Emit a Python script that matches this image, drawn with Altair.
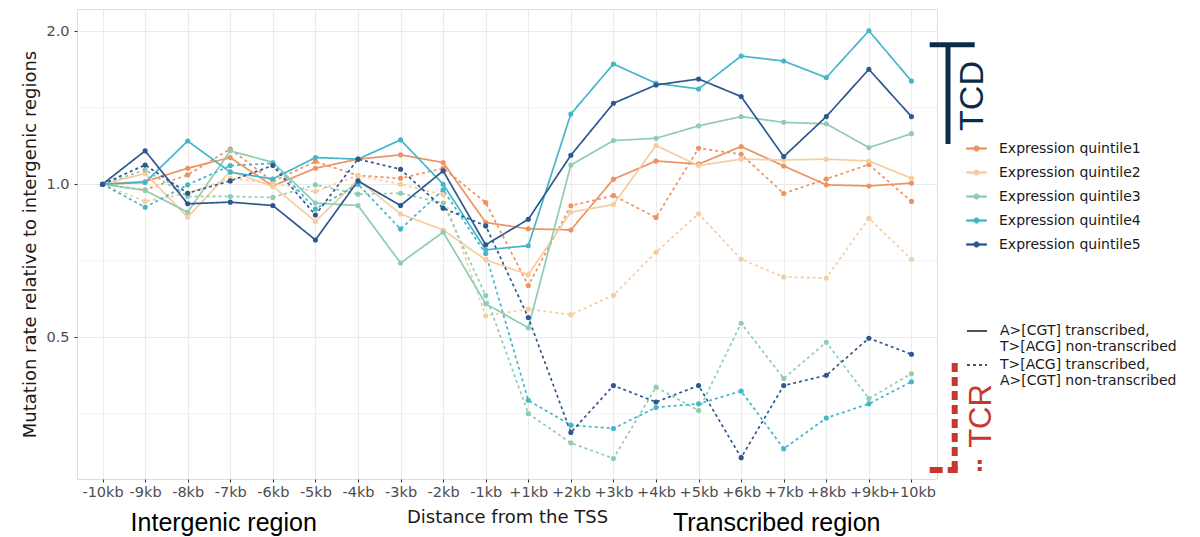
import altair as alt
import pandas as pd

positions = ["-10kb", "-9kb", "-8kb", "-7kb", "-6kb", "-5kb", "-4kb", "-3kb", "-2kb", "-1kb",
             "+1kb", "+2kb", "+3kb", "+4kb", "+5kb", "+6kb", "+7kb", "+8kb", "+9kb", "+10kb"]
quintiles = ["Expression quintile1", "Expression quintile2", "Expression quintile3",
             "Expression quintile4", "Expression quintile5"]
colors = ["#EE9260", "#F7CC9E", "#8FCDB1", "#43B6CA", "#2D5790"]
strands = ["A>[CGT] transcribed,|T>[ACG] non-transcribed",
           "T>[ACG] transcribed,|A>[CGT] non-transcribed"]

# solid: A>[CGT] transcribed ; dotted: T>[ACG] transcribed
q1_solid = [1.0, 1.012, 1.075, 1.128, 0.992, 1.075, 1.12, 1.142, 1.103, 0.841,
            0.817, 0.813, 1.023, 1.111, 1.095, 1.186, 1.086, 0.997, 0.992, 1.005]
q1_dotted = [1.0, 0.975, 1.043, 1.173, 1.012, 1.108, 1.04, 1.027, 1.075, 0.920,
             0.632, 0.907, 0.950, 0.860, 1.177, 1.145, 0.959, 1.024, 1.093, 0.925]
q2_solid = [1.0, 1.05, 0.861, 1.06, 0.99, 0.845, 1.02, 0.874, 0.813, 0.710,
            0.664, 0.881, 0.912, 1.191, 1.088, 1.12, 1.116, 1.12, 1.111, 1.027]
q2_dotted = [1.0, 0.925, 0.96, 1.027, 1.005, 0.967, 1.04, 1.0, 0.953, 0.551,
             0.568, 0.554, 0.605, 0.735, 0.875, 0.712, 0.657, 0.654, 0.857, 0.712]
q3_solid = [1.0, 0.972, 0.881, 1.163, 1.104, 0.918, 0.908, 0.70, 0.805, 0.582,
            0.522, 1.091, 1.218, 1.231, 1.302, 1.358, 1.323, 1.314, 1.18, 1.257]
q3_dotted = [1.0, 1.067, 0.946, 0.946, 0.942, 0.997, 0.956, 0.96, 0.918, 0.604,
             0.354, 0.310, 0.289, 0.399, 0.359, 0.533, 0.415, 0.489, 0.379, 0.424]
q4_solid = [1.0, 1.008, 1.216, 1.056, 1.024, 1.128, 1.12, 1.222, 1.0, 0.743,
            0.757, 1.374, 1.723, 1.579, 1.539, 1.786, 1.746, 1.62, 2.003, 1.595]
q4_dotted = [1.0, 0.901, 0.997, 1.088, 1.099, 0.894, 1.0, 0.816, 0.975, 0.730,
             0.376, 0.336, 0.331, 0.364, 0.370, 0.392, 0.302, 0.347, 0.370, 0.409]
q5_solid = [1.0, 1.163, 0.915, 0.922, 0.908, 0.777, 1.015, 0.908, 1.062, 0.760,
            0.853, 1.140, 1.442, 1.567, 1.61, 1.487, 1.133, 1.358, 1.682, 1.358]
q5_dotted = [1.0, 1.091, 0.960, 1.015, 1.088, 0.870, 1.12, 1.07, 0.897, 0.828,
             0.547, 0.325, 0.402, 0.373, 0.402, 0.290, 0.402, 0.421, 0.498, 0.463]

y_major = [0.5, 1.0, 2.0]
y_minor = [0.3536, 0.7071, 1.4142]

series = [
    (quintiles[0], strands[0], q1_solid), (quintiles[0], strands[1], q1_dotted),
    (quintiles[1], strands[0], q2_solid), (quintiles[1], strands[1], q2_dotted),
    (quintiles[2], strands[0], q3_solid), (quintiles[2], strands[1], q3_dotted),
    (quintiles[3], strands[0], q4_solid), (quintiles[3], strands[1], q4_dotted),
    (quintiles[4], strands[0], q5_solid), (quintiles[4], strands[1], q5_dotted),
]
rows = []
for q, s, vals in series:
    for p, v in zip(positions, vals):
        rows.append({"pos": p, "value": v, "quintile": q, "strand": s})
df = pd.DataFrame(rows)

W, H = 860, 470
FONT = "DejaVu Sans"

x_enc = alt.X("pos:N", sort=positions,
              scale=alt.Scale(type="point", padding=0.6),
              axis=alt.Axis(title="Distance from the TSS", labelAngle=0, labelOverlap=False,
                            labelFontSize=14.5, labelColor="#4D4D4D", labelPadding=3,
                            titleFontSize=18, titleFontWeight="normal", titleColor="#1A1A1A",
                            titlePadding=10, tickSize=3, tickColor="#333333",
                            domain=False, grid=True, gridColor="#EBEBEB", gridWidth=1.1,
                            labelFont=FONT, titleFont=FONT))
y_scale = alt.Scale(type="log", base=2, domain=[0.2633, 2.21], nice=False)
y_enc = alt.Y("value:Q", scale=y_scale,
              axis=alt.Axis(title="Mutation rate relative to intergenic regions",
                            values=y_major, format=".1f",
                            labelFontSize=14.5, labelColor="#4D4D4D", labelPadding=5,
                            titleFontSize=18, titleFontWeight="normal", titleColor="#1A1A1A",
                            titlePadding=6, tickSize=3, tickColor="#333333",
                            domain=False, grid=True, gridColor="#EBEBEB", gridWidth=1.1,
                            labelFont=FONT, titleFont=FONT))

color_scale = alt.Scale(domain=quintiles, range=colors)
color_legend = alt.Legend(title=None, orient="none", legendX=889, legendY=129,
                          symbolType="M-1,-0.07L1,-0.07L1,0.07L-1,0.07Z M-0.27,0A0.27,0.27 0 1,1 0.27,0A0.27,0.27 0 1,1 -0.27,0Z",
                          symbolSize=400, symbolStrokeWidth=0.8, symbolOpacity=1,
                          labelFont=FONT, labelFontSize=14, labelColor="#1A1A1A",
                          labelOffset=12, rowPadding=6, padding=0)
dash_legend = alt.Legend(title=None, orient="none", legendX=889, legendY=311,
                         symbolType="stroke", symbolSize=400, symbolStrokeWidth=1.6,
                         symbolStrokeColor="#1A1A1A",
                         labelExpr="split(datum.label, '|')",
                         labelFont=FONT, labelFontSize=14, labelColor="#1A1A1A",
                         labelOffset=12, rowPadding=-3, padding=0, labelLimit=400)

minor_grid = alt.Chart(pd.DataFrame({"v": y_minor})).mark_rule(
    color="#EBEBEB", strokeWidth=0.6).encode(y=alt.Y("v:Q", scale=y_scale))

lines = alt.Chart(df).mark_line(strokeWidth=1.7).encode(
    x=x_enc, y=y_enc,
    color=alt.Color("quintile:N", scale=color_scale, legend=color_legend),
    strokeDash=alt.StrokeDash("strand:N",
                              scale=alt.Scale(domain=strands, range=[[1, 0], [3, 3]]),
                              legend=dash_legend),
)
points = alt.Chart(df).mark_point(filled=True, size=26, opacity=1).encode(
    x=alt.X("pos:N", sort=positions), y=alt.Y("value:Q"),
    color=alt.Color("quintile:N", scale=color_scale, legend=color_legend),
)

# annotations (outside the panel)
NAVY = "#0C2B47"
RED = "#C8372D"
ann = pd.DataFrame({"k": [0]})
tcd_h = alt.Chart(ann).mark_rule(color=NAVY, strokeWidth=5).encode(
    x=alt.value(852.7), x2=alt.value(897.7), y=alt.value(35.8))
tcd_v = alt.Chart(ann).mark_rule(color=NAVY, strokeWidth=5).encode(
    x=alt.value(871), y=alt.value(35.8), y2=alt.value(135))
tcd_t = alt.Chart(pd.DataFrame({"t": ["TCD"]})).mark_text(
    angle=270, font="Liberation Sans", fontSize=34, color=NAVY, align="center",
    baseline="middle").encode(x=alt.value(896), y=alt.value(87), text="t:N")
tcr_v = alt.Chart(ann).mark_rule(color=RED, strokeWidth=6, strokeDash=[9, 5]).encode(
    x=alt.value(877.7), y=alt.value(354), y2=alt.value(464))
tcr_h = alt.Chart(ann).mark_rule(color=RED, strokeWidth=6, strokeDash=[13, 5]).encode(
    x=alt.value(852.7), x2=alt.value(880.7), y=alt.value(461))
tcr_s = alt.Chart(ann).mark_rule(color=RED, strokeWidth=4, strokeDash=[4, 3]).encode(
    x=alt.value(902.7), y=alt.value(451), y2=alt.value(464))
tcr_t = alt.Chart(pd.DataFrame({"t": ["TCR"]})).mark_text(
    angle=270, font="Liberation Sans", fontSize=31, color=RED, align="center",
    baseline="middle").encode(x=alt.value(905), y=alt.value(407), text="t:N")
reg_l = alt.Chart(pd.DataFrame({"t": ["Intergenic region"]})).mark_text(
    font="Liberation Sans", fontSize=25, color="#000000", align="center",
    baseline="alphabetic").encode(x=alt.value(146.7), y=alt.value(522.4), text="t:N")
reg_r = alt.Chart(pd.DataFrame({"t": ["Transcribed region"]})).mark_text(
    font="Liberation Sans", fontSize=25, color="#000000", align="center",
    baseline="alphabetic").encode(x=alt.value(699.7), y=alt.value(522.4), text="t:N")

chart = alt.layer(
    minor_grid, lines, points,
    tcd_h, tcd_v, tcd_t, tcr_v, tcr_h, tcr_s, tcr_t, reg_l, reg_r
).resolve_scale(y="shared").properties(
    width=W, height=H,
    autosize=alt.AutoSizeParams(type="none"),
    padding={"left": 69, "top": 1, "right": 255, "bottom": 58},
).configure_view(stroke="#7F7F7F", strokeWidth=1.1).configure(background="white")

chart.save("out.html", embed_options={"renderer": "svg", "actions": False})
